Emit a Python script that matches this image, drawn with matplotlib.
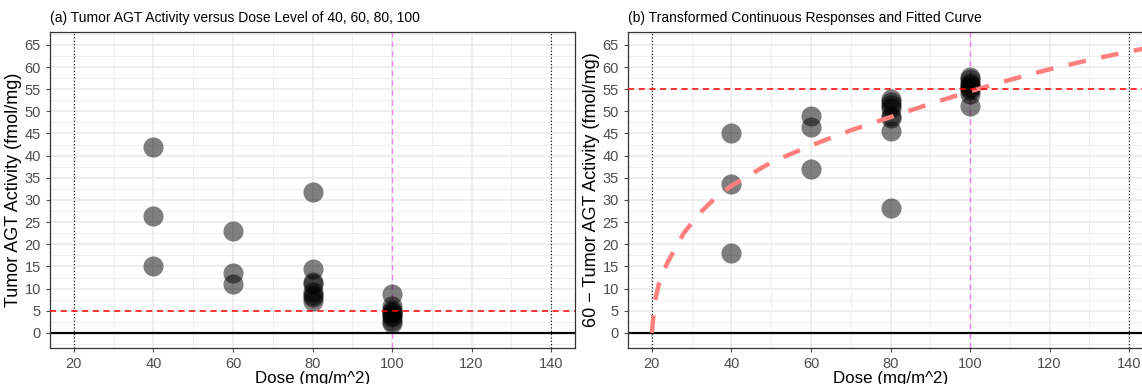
import matplotlib
matplotlib.use("Agg")
import matplotlib.pyplot as plt
import numpy as np

plt.rcParams['font.family'] = ['Liberation Sans', 'DejaVu Sans']

# observed tumor AGT activity (fmol/mg) by dose level
dose_40 = [42.0, 26.3, 15.0]
dose_60 = [23.0, 13.5, 11.0]
dose_80 = [31.7, 14.5, 11.5, 11.0, 9.2, 8.5, 8.0, 7.3]
dose_100 = [8.8, 6.0, 5.2, 4.8, 4.4, 4.0, 3.5, 2.8, 2.2]
dose_levels = [40, 60, 80, 100]

# fitted curve
fit_dose = [20, 20.5, 21, 22, 24, 28, 32, 36, 40, 50, 60, 70, 80, 90, 100, 110, 120, 130, 140, 146]
fit_resp = [0, 5, 8, 12, 16, 22.5, 27, 30.5, 33.2, 38.5, 42.3, 45.7, 48.7, 51.7, 54.5, 57.1, 59.5, 61.6, 63.5, 64.5]

target_a = 5
target_b = 55
ref_dose = 100

doses = []
vals = []
for d, v in zip(dose_levels, [dose_40, dose_60, dose_80, dose_100]):
    doses += [d] * len(v)
    vals += v
doses = np.array(doses)
vals = np.array(vals)

W, H = 1142, 384
fig = plt.figure(figsize=(W / 100, H / 100), dpi=100)
ax1 = fig.add_axes([50 / W, 1 - 348 / H, 525 / W, 316 / H])
ax2 = fig.add_axes([628 / W, 1 - 348 / H, 525 / W, 316 / H])


def style(ax):
    ax.set_xlim(14, 146)
    ax.set_ylim(-3.4, 67.9)
    ax.set_xticks(np.arange(20, 141, 20))
    ax.set_xticks(np.arange(30, 141, 20), minor=True)
    ax.set_yticks(np.arange(0, 66, 5))
    ax.set_yticks(np.arange(-2.5, 67.6, 5), minor=True)
    ax.grid(which='major', color='#ebebeb', lw=1.2, zorder=0)
    ax.grid(which='minor', color='#ededed', lw=0.6, zorder=0)
    ax.set_axisbelow(True)
    ax.tick_params(which='major', labelsize=10.5, colors='#4d4d4d', length=3, width=0.8)
    ax.tick_params(which='minor', length=0)
    for s in ax.spines.values():
        s.set_color('#333333')
        s.set_linewidth(0.9)
    ax.axvline(20, color='black', ls=(0, (1, 2)), lw=0.8, zorder=1)
    ax.axvline(140, color='black', ls=(0, (1, 2)), lw=0.8, zorder=1)
    ax.axvline(ref_dose, color='#ee82ee', ls=(0, (4, 3)), lw=1.0, zorder=1)
    ax.axhline(0, color='black', lw=1.6, zorder=1)
    ax.set_xlabel('Dose (mg/m^2)', fontsize=12.2, labelpad=0)


style(ax1)
ax1.scatter(doses, vals, s=210, color='black', alpha=0.5, lw=0, zorder=3)
ax1.axhline(target_a, color='#ff0000', ls=(0, (4, 3)), lw=1.1, zorder=4)
ax1.set_ylabel('Tumor AGT Activity (fmol/mg)', fontsize=13, labelpad=2)
ax1.set_title('(a) Tumor AGT Activity versus Dose Level of 40, 60, 80, 100',
              fontsize=10, loc='left', pad=7)

style(ax2)
ax2.scatter(doses, 60 - vals, s=210, color='black', alpha=0.5, lw=0, zorder=3)
ax2.plot(fit_dose, fit_resp, color='#ff7f7f', lw=3.2, ls=(0, (4, 3.5)), zorder=4)
ax2.axhline(target_b, color='#ff0000', ls=(0, (4, 3)), lw=1.1, zorder=4)
ax2.set_ylabel('60 \u2212 Tumor AGT Activity (fmol/mg)', fontsize=13, labelpad=2)
ax2.set_title('(b) Transformed Continuous Responses and Fitted Curve',
              fontsize=10, loc='left', pad=7)

fig.savefig('out.png', dpi=100)
